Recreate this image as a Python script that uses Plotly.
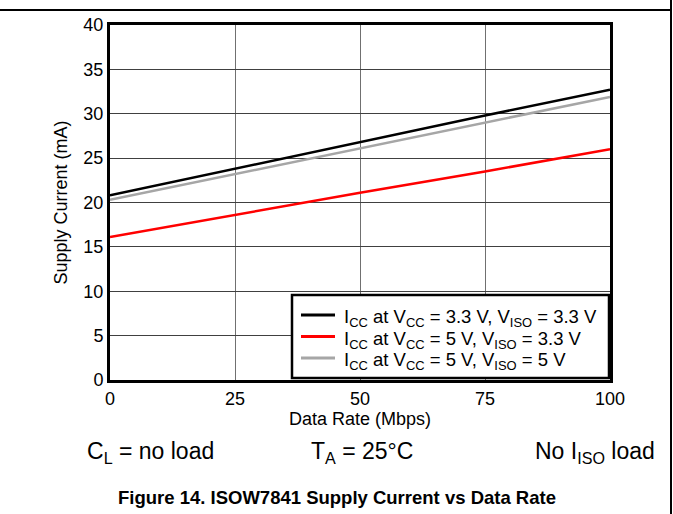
import plotly.graph_objects as go

data_rate = [0, 25, 50, 75, 100]
icc_33_33 = [20.8, 23.8, 26.8, 29.8, 32.7]
icc_5_33 = [16.1, 18.6, 21.1, 23.5, 26.0]
icc_5_5 = [20.3, 23.2, 26.1, 29.0, 31.9]

names = [
    "I<sub>CC</sub> at V<sub>CC</sub> = 3.3 V, V<sub>ISO</sub> = 3.3 V",
    "I<sub>CC</sub> at V<sub>CC</sub> = 5 V, V<sub>ISO</sub> = 3.3 V",
    "I<sub>CC</sub> at V<sub>CC</sub> = 5 V, V<sub>ISO</sub> = 5 V",
]
colors = ["#000000", "#ff0000", "#a6a6a6"]
series = [icc_33_33, icc_5_33, icc_5_5]

W, H = 673, 514
L, R, T, B = 110, 610, 25, 380

def px(x):
    return (x - L) / (R - L)

def py(y):
    return (B - y) / (B - T)

FONT = "Arial, Liberation Sans, sans-serif"

fig = go.Figure()
for n, c, s in zip(names, colors, series):
    fig.add_trace(go.Scatter(x=data_rate, y=s, mode="lines", name=n,
                             line=dict(color=c, width=2.5), showlegend=False))

fig.update_layout(
    width=W, height=H,
    margin=dict(l=L, r=W - R, t=T, b=H - B),
    paper_bgcolor="white", plot_bgcolor="white",
    font=dict(family=FONT, color="black", size=18),
    showlegend=False,
    xaxis=dict(range=[0, 100], tickvals=[0, 25, 50, 75, 100],
               showgrid=True, gridcolor="#707070", gridwidth=1,
               showline=True, linecolor="black", linewidth=3, mirror=True,
               ticks="", zeroline=False,
               tickfont=dict(size=18),
               title=dict(text="Data Rate (Mbps)", font=dict(size=18), standoff=3)),
    yaxis=dict(range=[0, 40], tickvals=list(range(0, 41, 5)),
               showgrid=True, gridcolor="#404040", gridwidth=1,
               showline=True, linecolor="black", linewidth=3, mirror=True,
               ticks="", zeroline=False,
               tickfont=dict(size=18),
               title=dict(text="Supply Current (mA)", font=dict(size=18), standoff=12)),
)

# legend box (drawn by hand for tight row spacing)
fig.add_shape(type="rect", xref="paper", yref="paper",
              x0=px(292), x1=px(609), y0=py(378), y1=py(295),
              line=dict(color="black", width=2.5), fillcolor="white", layer="above")
rows = [315, 336.5, 358]
for n, c, ry in zip(names, colors, rows):
    fig.add_shape(type="line", xref="paper", yref="paper",
                  x0=px(301), x1=px(335), y0=py(ry), y1=py(ry),
                  line=dict(color=c, width=3), layer="above")
    fig.add_annotation(text=n, xref="paper", yref="paper",
                       x=px(342), y=py(ry + 3), xanchor="left", yanchor="middle",
                       showarrow=False, font=dict(size=18.5, family=FONT))

# page border lines
fig.add_shape(type="line", xref="paper", yref="paper",
              x0=px(0), x1=px(672), y0=py(10), y1=py(10),
              line=dict(color="black", width=2), layer="above")
fig.add_shape(type="line", xref="paper", yref="paper",
              x0=px(671), x1=px(671), y0=py(0), y1=py(514),
              line=dict(color="black", width=2), layer="above")

fig.add_annotation(text="C<sub>L</sub> = no load", xref="paper", yref="paper",
                   x=px(85), y=py(452), xanchor="left", yanchor="middle",
                   showarrow=False, font=dict(size=23, family=FONT))
fig.add_annotation(text="T<sub>A</sub> = 25°C", xref="paper", yref="paper",
                   x=px(362), y=py(452), xanchor="center", yanchor="middle",
                   showarrow=False, font=dict(size=23, family=FONT))
fig.add_annotation(text="No I<sub>ISO</sub> load", xref="paper", yref="paper",
                   x=px(657), y=py(452), xanchor="right", yanchor="middle",
                   showarrow=False, font=dict(size=23, family=FONT))
fig.add_annotation(text="<b>Figure 14. ISOW7841 Supply Current vs Data Rate</b>",
                   xref="paper", yref="paper",
                   x=px(337), y=py(497), xanchor="center", yanchor="middle",
                   showarrow=False, font=dict(size=18.5, family=FONT))

fig.write_html("out.html",
               config={"displayModeBar": False},
               post_script="document.body.style.margin='0';document.body.style.overflow='hidden';")
